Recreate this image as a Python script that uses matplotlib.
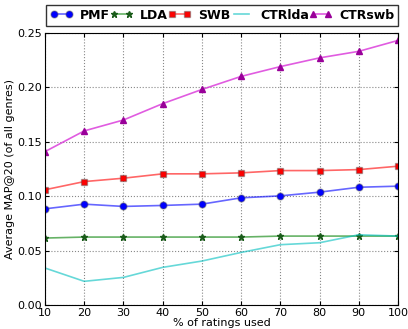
import matplotlib
matplotlib.use("Agg")
import matplotlib.pyplot as plt

x = [10, 20, 30, 40, 50, 60, 70, 80, 90, 100]
pmf = [0.0885, 0.0928, 0.0907, 0.0916, 0.0928, 0.0986, 0.1004, 0.1038, 0.1083, 0.1093]
lda = [0.0617, 0.0626, 0.0626, 0.0626, 0.0626, 0.0626, 0.0635, 0.0635, 0.0635, 0.0635]
swb = [0.1060, 0.1135, 0.1166, 0.1206, 0.1206, 0.1215, 0.1236, 0.1236, 0.1245, 0.1276]
ctrlda = [0.0342, 0.0220, 0.0256, 0.0348, 0.0406, 0.0485, 0.0556, 0.0574, 0.0647, 0.0635]
ctrswb = [0.141, 0.160, 0.170, 0.185, 0.198, 0.210, 0.219, 0.227, 0.233, 0.243]

fig = plt.figure(figsize=(4.08, 3.29), dpi=100)
ax = fig.add_axes([45/408, 1-305.3/329, 353/408, 272.5/329])

ax.plot(x, pmf, '-o', color=(0, 0, 1, 0.6), mfc='b', mec=(0.3, 0.3, 0.3, 0.4), ms=5, lw=1.2, label='PMF')
ax.plot(x, lda, '-*', color=(0, 0.5, 0, 0.6), mfc='#1a5c1a', mec='#1a5c1a', ms=5, lw=1.2, label='LDA')
ax.plot(x, swb, '-s', color=(1, 0, 0, 0.6), mfc='r', mec=(0.3, 0.3, 0.3, 0.4), ms=5, lw=1.2, label='SWB')
ax.plot(x, ctrlda, '-', color=(0, 0.75, 0.75, 0.6), lw=1.2, label='CTRlda')
ax.plot(x, ctrswb, '-^', color=(0.85, 0.2, 0.85, 0.8), mfc='#990099', mec='#990099', ms=4.5, lw=1.2, label='CTRswb')

ax.set_xlim(10, 100)
ax.set_ylim(0, 0.25)
ax.set_xticks(x)
ax.set_yticks([0.0, 0.05, 0.10, 0.15, 0.20, 0.25])
ax.set_yticklabels(['0.00', '0.05', '0.10', '0.15', '0.20', '0.25'])
ax.tick_params(labelsize=8, direction='in', length=3, top=True, right=True, pad=2)
ax.grid(True, linestyle=':', color='#888888', lw=0.8)
ax.set_xlabel('% of ratings used', fontsize=8, labelpad=0)
ax.set_ylabel('Average MAP@20 (of all genres)', fontsize=8, labelpad=2)

leg = fig.legend(loc='upper left', bbox_to_anchor=(46/408, 1-27/329, 352/408, 22/329), mode='expand',
                 ncol=5, numpoints=2, prop={'weight': 'bold', 'size': 9}, handlelength=1.8, handletextpad=0.6,
                 columnspacing=0.5, borderaxespad=0, fancybox=False, edgecolor='black', borderpad=0.3)
leg.get_frame().set_linewidth(1.0)

fig.savefig('out.png', dpi=100)
